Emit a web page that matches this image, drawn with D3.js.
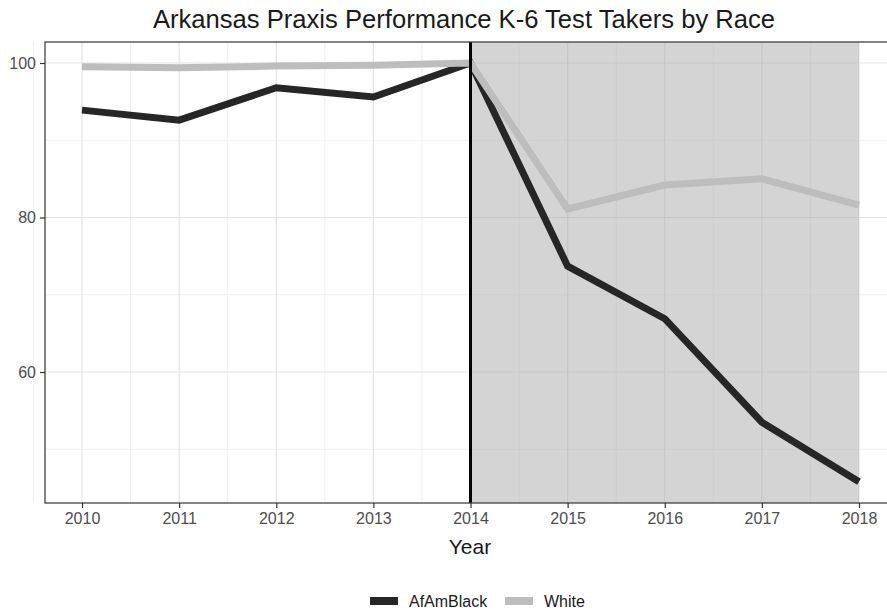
<!DOCTYPE html>
<html><head><meta charset="utf-8">
<script src="https://cdn.jsdelivr.net/npm/d3@7"></script>
<style>body{margin:0;background:#fff}svg{display:block;font-family:"Liberation Sans",Arial,sans-serif}</style>
</head><body><svg id="c" width="887" height="611"></svg>
<script>
const years = [2010, 2011, 2012, 2013, 2014, 2015, 2016, 2017, 2018];
const afAmBlack = [93.9, 92.6, 96.8, 95.6, 100, 73.7, 66.9, 53.5, 45.8];
const white = [99.5, 99.4, 99.6, 99.7, 100, 81.1, 84.2, 85.0, 81.6];
const yTicks = [60, 80, 100];
const yMinor = [50, 70, 90];
const seriesNames = ["AfAmBlack", "White"];
const seriesColors = ["#262626", "#bdbdbd"];

const svg = d3.select("#c");
const L = 45, T = 42, R = 889, B = 503;
const x = d3.scaleLinear().domain([2010, 2018]).range([82, 859]);
const y = d3.scaleLinear().domain([60, 100]).range([372, 63]);

// minor grid
const minorX = years.slice(0, -1).map(v => v + 0.5).concat([2009.5, 2018.5]);
svg.append("g").selectAll("line").data(minorX).join("line")
  .attr("x1", d => x(d)).attr("x2", d => x(d)).attr("y1", T).attr("y2", B)
  .attr("stroke", "#f0f0f0").attr("stroke-width", 1);
svg.append("g").selectAll("line").data(yMinor).join("line")
  .attr("x1", L).attr("x2", R).attr("y1", d => y(d)).attr("y2", d => y(d))
  .attr("stroke", "#f0f0f0").attr("stroke-width", 1);
// major grid
svg.append("g").selectAll("line").data(years).join("line")
  .attr("x1", d => x(d)).attr("x2", d => x(d)).attr("y1", T).attr("y2", B)
  .attr("stroke", "#e3e3e3").attr("stroke-width", 1.2);
svg.append("g").selectAll("line").data(yTicks).join("line")
  .attr("x1", L).attr("x2", R).attr("y1", d => y(d)).attr("y2", d => y(d))
  .attr("stroke", "#e3e3e3").attr("stroke-width", 1.2);

// shaded region
svg.append("rect").attr("x", x(2014)).attr("y", T).attr("width", x(2018) - x(2014)).attr("height", B - T)
  .attr("fill", "#b0b0b0").attr("fill-opacity", 0.55);

// lines
const line = d3.line().x((d, i) => x(years[i])).y(d => y(d));
[afAmBlack, white].forEach((s, k) => {
  svg.append("path").datum(s).attr("d", line).attr("fill", "none")
    .attr("stroke", seriesColors[k]).attr("stroke-width", 7).attr("stroke-linejoin", "miter");
});
// vertical line 2014
svg.append("line").attr("x1", x(2014)).attr("x2", x(2014)).attr("y1", T).attr("y2", B)
  .attr("stroke", "#000").attr("stroke-width", 3);

// border
svg.append("rect").attr("x", L).attr("y", T).attr("width", R - L).attr("height", B - T)
  .attr("fill", "none").attr("stroke", "#333").attr("stroke-width", 1.2);

// axes
const xAxis = d3.axisBottom(x).tickValues(years).tickFormat(d3.format("d")).tickSize(5).tickPadding(5);
const gx = svg.append("g").attr("transform", `translate(0,${B})`).call(xAxis);
gx.select(".domain").remove();
gx.selectAll("line").attr("stroke", "#333").attr("stroke-width", 1.2);
gx.selectAll("text").attr("fill", "#4d4d4d").attr("font-size", 16).attr("font-family", "Liberation Sans, Arial, sans-serif");

const yAxis = d3.axisLeft(y).tickValues(yTicks).tickSize(5).tickPadding(4);
const gy = svg.append("g").attr("transform", `translate(${L},0)`).call(yAxis);
gy.select(".domain").remove();
gy.selectAll("line").attr("stroke", "#333").attr("stroke-width", 1.2);
gy.selectAll("text").attr("fill", "#4d4d4d").attr("font-size", 16).attr("font-family", "Liberation Sans, Arial, sans-serif");

// title
svg.append("text").attr("x", 464).attr("y", 28).attr("text-anchor", "middle")
  .attr("font-size", 25.6).attr("fill", "#1a1a1a").text("Arkansas Praxis Performance K-6 Test Takers by Race");
// x title
svg.append("text").attr("x", 470).attr("y", 554).attr("text-anchor", "middle")
  .attr("font-size", 21).attr("fill", "#1a1a1a").text("Year");

// legend
const lg = svg.append("g");
const legX = [370, 505];
seriesNames.forEach((n, k) => {
  lg.append("rect").attr("x", legX[k]).attr("y", 597).attr("width", 28).attr("height", 8).attr("fill", seriesColors[k]);
  lg.append("text").attr("x", legX[k] + 39).attr("y", 607).attr("font-size", 16).attr("fill", "#1a1a1a").text(n);
});
</script></body></html>
